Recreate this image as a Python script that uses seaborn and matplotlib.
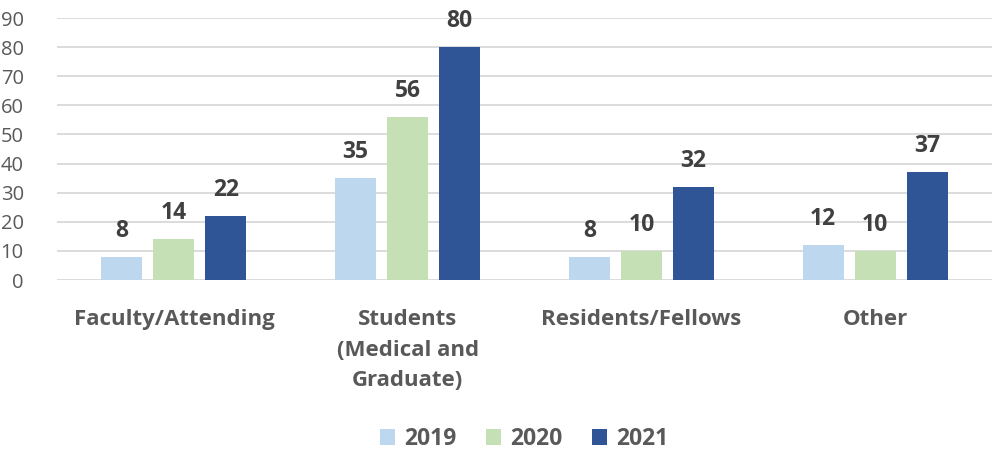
import matplotlib
matplotlib.use("Agg")
import matplotlib.pyplot as plt
import seaborn as sns
import pandas as pd

categories = ["Faculty/Attending", "Students\n(Medical and\nGraduate)", "Residents/Fellows", "Other"]
years = ["2019", "2020", "2021"]
v2019 = [8, 35, 8, 12]
v2020 = [14, 56, 10, 10]
v2021 = [22, 80, 32, 37]
colors = ["#BDD7EE", "#C5E0B4", "#2F5597"]

rows = []
for yr, vals in zip(years, [v2019, v2020, v2021]):
    for c, v in zip(categories, vals):
        rows.append({"cat": c, "year": yr, "val": v})
df = pd.DataFrame(rows)

sns.set_theme(style="white")
plt.rcParams["font.family"] = ["Open Sans", "DejaVu Sans"]

fig = plt.figure(figsize=(9.92, 4.51), dpi=100)
ax = fig.add_axes([0.0575, 0.379, 0.9425, 0.581])

sns.barplot(data=df, x="cat", y="val", hue="year", order=categories, hue_order=years,
            palette=colors, width=0.667, gap=0.21, ax=ax, saturation=1, legend=True,
            linewidth=0, edgecolor="none")

for cont in ax.containers:
    ax.bar_label(cont, labels=[f"{int(v)}" for v in cont.datavalues], padding=10,
                 fontsize=16.5, fontweight="bold", color="#404040")

ax.set_ylim(0, 90)
ax.set_yticks(range(0, 91, 10))
ax.set_xlim(-0.5, 3.5)
ax.yaxis.grid(True, color="#D9D9D9", linewidth=1.3)
ax.set_axisbelow(True)
for s in ax.spines.values():
    s.set_visible(False)
ax.set_xlabel("")
ax.set_ylabel("")
ax.tick_params(axis="y", labelsize=14.5, colors="#595959", length=0, pad=24)
ax.tick_params(axis="x", labelsize=16, colors="#595959", length=0, pad=21)
for t in ax.get_yticklabels():
    t.set_horizontalalignment("right")
for t in ax.get_xticklabels():
    t.set_fontweight("bold")
    t.set_linespacing(1.6)
    t.set_verticalalignment("top")

leg = ax.legend(loc="center", bbox_to_anchor=(0.5, 1 - (439 - 18) / 262.0), ncol=3, frameon=False,
                handlelength=0.65, handleheight=0.65, handletextpad=0.4, columnspacing=1.3,
                prop={"size": 16.5, "weight": "bold"})
for t in leg.get_texts():
    t.set_color("#595959")

fig.savefig("out.png", dpi=100)
